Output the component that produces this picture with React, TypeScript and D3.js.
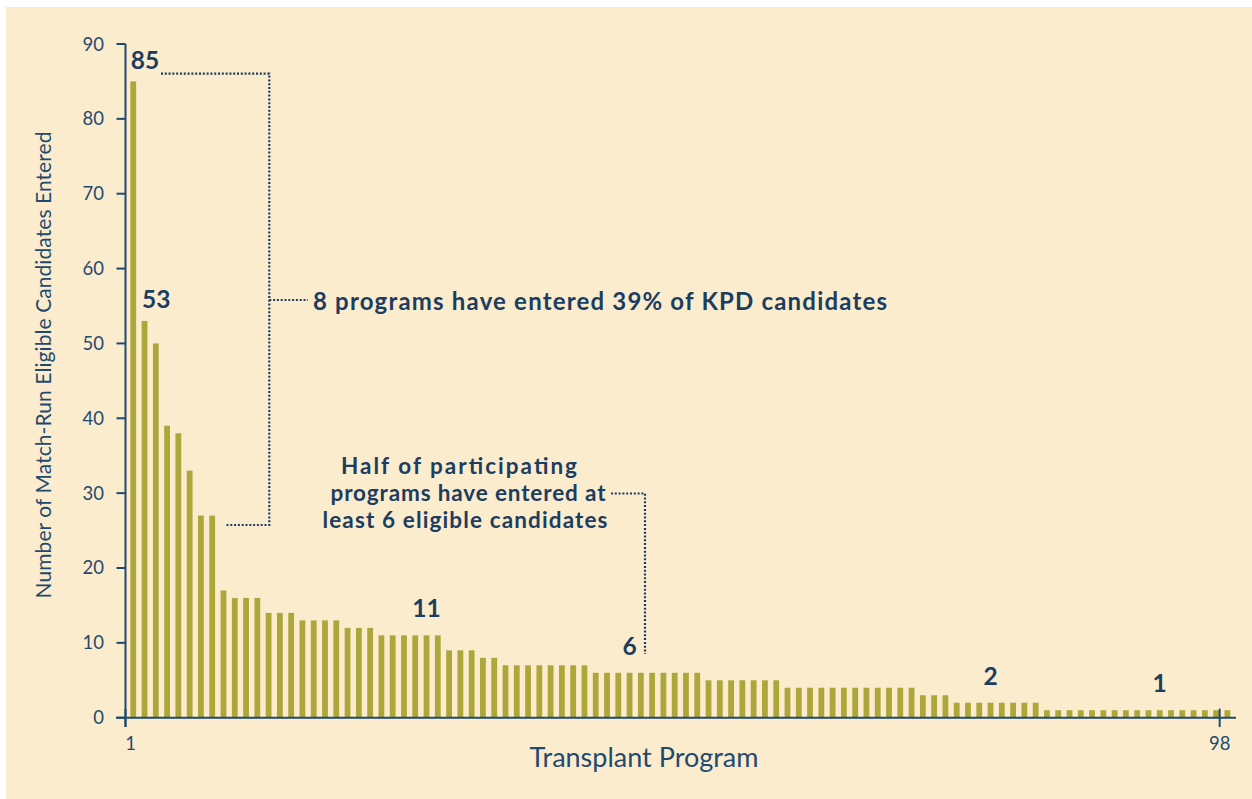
import React, { useEffect, useRef } from 'react';
import * as d3 from 'd3';

// entered candidates per transplant program, sorted high to low
const values = [
  85, 53, 50, 39, 38, 33, 27, 27, 17, 16, 16, 16, 14, 14, 14, 13, 13, 13, 13, 12,
  12, 12, 11, 11, 11, 11, 11, 11, 9, 9, 9, 8, 8, 7, 7, 7, 7, 7, 7, 7,
  7, 6, 6, 6, 6, 6, 6, 6, 6, 6, 6, 5, 5, 5, 5, 5, 5, 5, 4, 4,
  4, 4, 4, 4, 4, 4, 4, 4, 4, 4, 3, 3, 3, 2, 2, 2, 2, 2, 2, 2,
  2, 1, 1, 1, 1, 1, 1, 1, 1, 1, 1, 1, 1, 1, 1, 1, 1, 1,
];
const programs = values.map((_, i) => i + 1);
const yTicks = [0, 10, 20, 30, 40, 50, 60, 70, 80, 90];
const xTicks = [1, 98];
// callout numbers: [program, label]
const callouts = [[27, '11'], [45, '6'], [77, '2'], [92, '1']];

const bg = '#fcecce';
const ink = '#1b3d60';
const axisCl = '#1f4a6f';
const barCl = '#ada63a';

function App() {
  const svgRef = useRef(null);

  useEffect(() => {
    const svg = d3.select(svgRef.current);
    svg.selectAll('*').remove();

    svg.append('rect')
      .attr('x', 6).attr('y', 7)
      .attr('width', 1246).attr('height', 792)
      .attr('fill', bg);

    const x = d3.scaleBand()
      .domain(programs.map(String))
      .range([125.5, 125.5 + 98 * 11.28]);
    const y = d3.scaleLinear().domain([0, 90]).range([717.7, 44]);
    const xc = (p) => x(String(p)) + 7.75;

    // bars
    svg.append('g').selectAll('rect')
      .data(values)
      .join('rect')
      .attr('x', (d, i) => xc(i + 1) - 2.9)
      .attr('width', 5.8)
      .attr('y', d => y(d))
      .attr('height', d => y(0) - y(d))
      .attr('fill', barCl);

    // y axis
    const gy = svg.append('g');
    gy.append('line')
      .attr('x1', 125.5).attr('x2', 125.5)
      .attr('y1', y(90)).attr('y2', 727)
      .attr('stroke', axisCl).attr('stroke-width', 2);
    gy.selectAll('line.tick')
      .data(yTicks)
      .join('line')
      .attr('class', 'tick')
      .attr('x1', 116.5).attr('x2', 125.5)
      .attr('y1', d => y(d)).attr('y2', d => y(d))
      .attr('stroke', axisCl).attr('stroke-width', 2);
    gy.selectAll('text')
      .data(yTicks)
      .join('text')
      .attr('x', 104)
      .attr('y', d => y(d) + 6.5)
      .attr('text-anchor', 'end')
      .attr('font-size', 18.5)
      .attr('fill', axisCl)
      .text(d => d);

    // x axis
    const gx = svg.append('g');
    gx.append('line')
      .attr('x1', 116).attr('x2', 1236)
      .attr('y1', y(0)).attr('y2', y(0))
      .attr('stroke', axisCl).attr('stroke-width', 2);
    gx.selectAll('line.tick')
      .data(xTicks)
      .join('line')
      .attr('class', 'tick')
      .attr('x1', d => x(String(d))).attr('x2', d => x(String(d)))
      .attr('y1', y(0) - 9).attr('y2', 727)
      .attr('stroke', axisCl).attr('stroke-width', 2);
    gx.selectAll('text')
      .data(xTicks)
      .join('text')
      .attr('x', d => x(String(d)) + (d === 1 ? 5 : 0))
      .attr('y', 750)
      .attr('text-anchor', 'middle')
      .attr('font-size', 18.5)
      .attr('fill', axisCl)
      .text(d => d);

    svg.append('text')
      .attr('x', 644).attr('y', 767)
      .attr('text-anchor', 'middle')
      .attr('font-size', 27)
      .attr('fill', axisCl)
      .text('Transplant Program');

    svg.append('text')
      .attr('transform', 'translate(51,365) rotate(-90)')
      .attr('text-anchor', 'middle')
      .attr('font-size', 21)
      .attr('fill', axisCl)
      .attr('textLength', 467)
      .text('Number of Match-Run Eligible Candidates Entered');

    // bold callouts
    const bold = (tx, ty, s, anchor = 'middle', size = 24, len = 0) => {
      const t = svg.append('text')
        .attr('x', tx).attr('y', ty)
        .attr('text-anchor', anchor)
        .attr('font-size', size)
        .attr('font-weight', 700)
        .attr('fill', ink)
        .text(s);
      if (len) t.attr('textLength', len);
      return t;
    };

    bold(xc(1) - 2.5, y(85) - 12, '85', 'start', 24.5);
    bold(xc(2) - 2.5, y(53) - 13, '53', 'start', 24.5);
    callouts.forEach(([p, s]) => bold(xc(p), y(+s) - 18, s, 'middle', 24.5));

    // dotted brackets
    const dotted = (pts) =>
      svg.append('path')
        .attr('d', d3.line()(pts))
        .attr('fill', 'none')
        .attr('stroke', ink)
        .attr('stroke-width', 2.2)
        .attr('stroke-dasharray', '2 1.8');

    dotted([[161, 73.7], [269.3, 73.7], [269.3, 525], [225, 525]]);
    dotted([[269.3, 300], [308, 300]]);
    bold(313, 310, '8 programs have entered 39% of KPD candidates', 'start', 24, 574);

    dotted([[611, 493.5], [645, 493.5], [645, 654]]);
    bold(459, 473.5, 'Half of participating', 'middle', 22.5, 236);
    bold(468, 500.5, 'programs have entered at', 'middle', 22.5, 275);
    bold(465, 527.5, 'least 6 eligible candidates', 'middle', 22.5, 285);
  }, []);

  return (
    <svg
      ref={svgRef}
      width={1252}
      height={799}
      style={{ position: 'absolute', left: 0, top: 0, fontFamily: 'Lato, sans-serif' }}
    />
  );
}

export default App;
